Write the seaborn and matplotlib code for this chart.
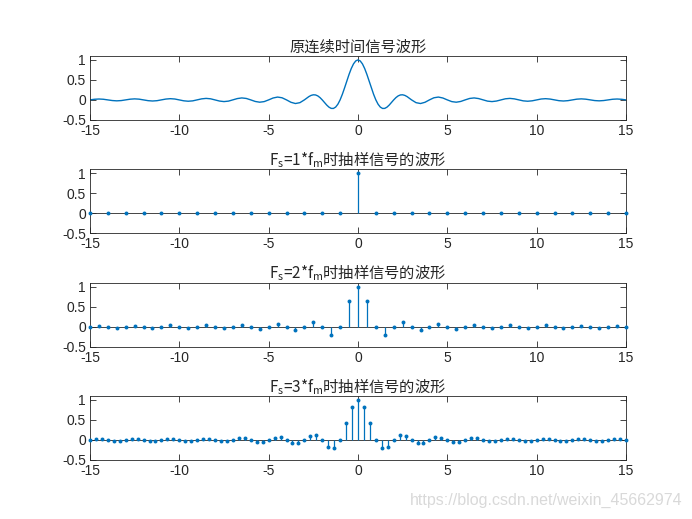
import numpy as np
import pandas as pd
import matplotlib
matplotlib.use("Agg")
import matplotlib.pyplot as plt
import seaborn as sns

# ---------------- data ----------------
# continuous waveform, right half (t >= 0); the curve is symmetric about t = 0
t_half = [0, 0.125, 0.25, 0.375, 0.5, 0.625, 0.75, 0.875, 1.0, 1.125, 1.25, 1.375,
          1.5, 1.625, 1.75, 1.875, 2.0, 2.125, 2.25, 2.375, 2.5, 2.625, 2.75, 2.875, 3.0,
          3.25, 3.5, 3.75, 4.0, 4.25, 4.5, 4.75, 5.0, 5.25, 5.5, 5.75, 6.0,
          6.25, 6.5, 6.75, 7.0, 7.25, 7.5, 7.75, 8.0, 8.25, 8.5, 8.75, 9.0,
          9.25, 9.5, 9.75, 10.0, 10.25, 10.5, 10.75, 11.0, 11.25, 11.5, 11.75, 12.0,
          12.25, 12.5, 12.75, 13.0, 13.25, 13.5, 13.75, 14.0, 14.25, 14.5, 14.75, 15.0]
x_half = [1.0, 0.9745, 0.9003, 0.7842, 0.6366, 0.4705, 0.3001, 0.1392, 0.0, -0.1083,
          -0.1801, -0.2139, -0.2122, -0.1810, -0.1286, -0.0650, 0.0, 0.0573, 0.1000,
          0.1238, 0.1273, 0.1120, 0.0818, 0.0424, 0.0,
          -0.0693, -0.0909, -0.0600, 0.0, 0.0530, 0.0707, 0.0474, 0.0,
          -0.0429, -0.0579, -0.0391, 0.0, 0.0360, 0.0490, 0.0333, 0.0,
          -0.0310, -0.0424, -0.0290, 0.0, 0.0273, 0.0374, 0.0257, 0.0,
          -0.0243, -0.0335, -0.0231, 0.0, 0.0220, 0.0303, 0.0209, 0.0,
          -0.0200, -0.0277, -0.0192, 0.0, 0.0184, 0.0255, 0.0177, 0.0,
          -0.0170, -0.0236, -0.0164, 0.0, 0.0158, 0.0220, 0.0153, 0.0]

# sampled values for n >= 0 (symmetric)
fs1_half = [1.0, 0, 0, 0, 0, 0, 0, 0, 0, 0, 0, 0, 0, 0, 0, 0]            # step 1
fs2_half = [1.0, 0.6366, 0.0, -0.2122, 0.0, 0.1273, 0.0, -0.0909, 0.0, 0.0707,
            0.0, -0.0579, 0.0, 0.0490, 0.0, -0.0424, 0.0, 0.0374, 0.0, -0.0335,
            0.0, 0.0303, 0.0, -0.0277, 0.0, 0.0255, 0.0, -0.0236, 0.0, 0.0220, 0.0]  # step 1/2
fs3_half = [1.0, 0.827, 0.4135, 0.0, -0.2067, -0.1654, 0.0, 0.1181, 0.1034, 0.0,
            -0.0827, -0.0752, 0.0, 0.0636, 0.0591, 0.0, -0.0517, -0.0486, 0.0,
            0.0435, 0.0413, 0.0, -0.0376, -0.0360, 0.0, 0.0331, 0.0318, 0.0,
            -0.0295, -0.0285, 0.0, 0.0267, 0.0258, 0.0, -0.0243, -0.0236, 0.0,
            0.0224, 0.0218, 0.0, -0.0207, -0.0202, 0.0, 0.0192, 0.0188, 0.0]  # step 1/3
steps = [1.0, 0.5, 1.0 / 3.0]

titles = ["原连续时间信号波形",
          r"$\mathrm{F_s}$=1*$\mathrm{f_m}$时抽样信号的波形",
          r"$\mathrm{F_s}$=2*$\mathrm{f_m}$时抽样信号的波形",
          r"$\mathrm{F_s}$=3*$\mathrm{f_m}$时抽样信号的波形"]
xticks = [-15, -10, -5, 0, 5, 10, 15]
yticks = [-0.5, 0, 0.5, 1]
ytick_labels = ["-0.5", "0", "0.5", "1"]
watermark = "https://blog.csdn.net/weixin_45662974"

# ---------------- style ----------------
sns.set_style("ticks")
plt.rcParams['font.family'] = ['Liberation Sans', 'Noto Sans CJK SC', 'DejaVu Sans']
plt.rcParams['mathtext.fontset'] = 'custom'
plt.rcParams['mathtext.rm'] = 'Noto Sans CJK SC'
plt.rcParams['mathtext.it'] = 'Noto Sans CJK SC'
plt.rcParams['mathtext.default'] = 'rm'

blue = '#0072BD'
dark = '#262626'

fig = plt.figure(figsize=(6.92, 5.19), dpi=100)
fig.patch.set_facecolor('white')

bottoms = [0.769, 0.5505, 0.332, 0.1137]
h = 0.1233
axes = [fig.add_axes([0.13, b, 0.7746, h]) for b in bottoms]


def mirror(half):
    return list(reversed(half[1:])) + list(half)


# continuous
t_full = [-v for v in reversed(t_half[1:])] + t_half
x_full = mirror(x_half)
df0 = pd.DataFrame({"t": t_full, "x": x_full})
sns.lineplot(data=df0, x="t", y="x", ax=axes[0], color=blue, lw=1.0,
             sort=False, estimator=None)

for ax, half, st in zip(axes[1:], [fs1_half, fs2_half, fs3_half], steps):
    vals = mirror(half)
    n = len(half) - 1
    tt = [k * st for k in range(-n, n + 1)]
    df = pd.DataFrame({"t": tt, "x": vals})
    ax.axhline(0, color=dark, lw=0.6, zorder=1)
    ax.vlines(df["t"], 0, df["x"], color=blue, lw=0.9, zorder=2)
    sns.scatterplot(data=df, x="t", y="x", ax=ax, color=blue, s=8,
                    edgecolor=blue, linewidth=0, zorder=3, clip_on=False)

for ax, ttl in zip(axes, titles):
    ax.set_xlim(-15, 15)
    ax.set_ylim(-0.5, 1.1)
    ax.set_xticks(xticks)
    ax.set_yticks(yticks)
    ax.set_xticklabels([str(v) for v in xticks])
    ax.set_yticklabels(ytick_labels)
    ax.set_xlabel("")
    ax.set_ylabel("")
    ax.tick_params(direction='in', length=4, width=0.6, colors=dark,
                   labelsize=10, top=True, right=True)
    ax.tick_params(axis='x', pad=3)
    ax.tick_params(axis='y', pad=3)
    for sp in ax.spines.values():
        sp.set_visible(True)
        sp.set_color(dark)
        sp.set_linewidth(0.6)
    ax.set_title(ttl, fontsize=11, color=dark, pad=3,
                 family=['Noto Sans CJK SC', 'DejaVu Sans'])

fig.text(0.986, 0.022, watermark, ha='right', va='bottom', fontsize=11.5,
         color='#d9d9d9')

fig.savefig("out.png", dpi=100, facecolor='white')
